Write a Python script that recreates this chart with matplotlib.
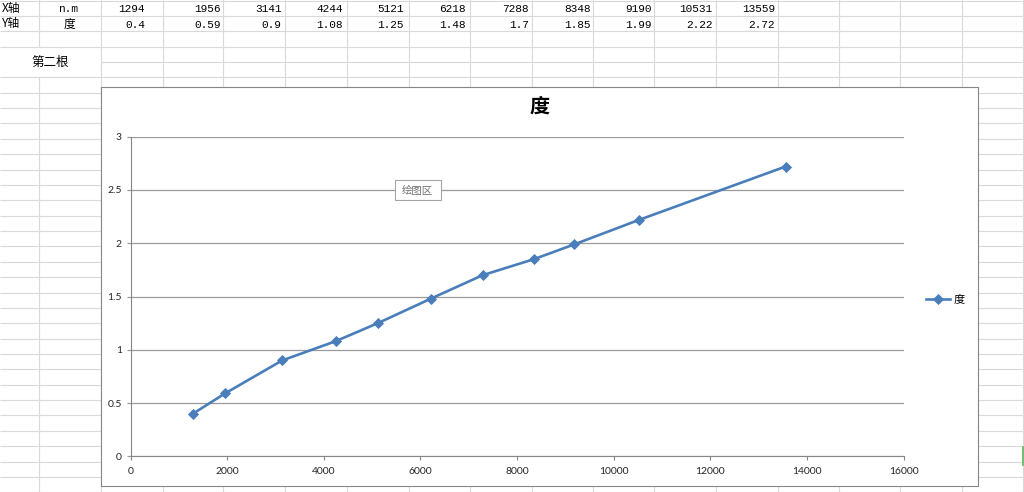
import matplotlib
matplotlib.use('Agg')
import matplotlib.pyplot as plt
from matplotlib.patches import Rectangle
import numpy as np

# ── Data ──────────────────────────────────────────────────────────────────────
x_vals = [1294, 1956, 3141, 4244, 5121, 6218, 7288, 8348, 9190, 10531, 13559]
y_vals = [0.4, 0.59, 0.9, 1.08, 1.25, 1.48, 1.7, 1.85, 1.99, 2.22, 2.72]
series_name = '度'
row_labels = ['X轴', 'Y轴']
unit_labels = ['n.m', '度']
note_label = '第二根'
x_ticks = [0, 2000, 4000, 6000, 8000, 10000, 12000, 14000, 16000]
y_ticks = [0, 0.5, 1, 1.5, 2, 2.5, 3]

# ── Layout (pixels) ───────────────────────────────────────────────────────────
W, H = 1024, 492
COL_EDGES = [39, 100.7, 162.7, 223, 285, 347, 408.7, 470, 531.7, 593, 654,
             716, 777.7, 838.7, 900, 961.7, 1023]
ROW_H = 15.37
VAL_RIGHT = [145, 220.7, 281.5, 343, 404, 466, 529, 590.7, 651.7, 712.7, 775]
CJK = 'Noto Sans CJK SC'
C_GRID = '#d9d9d9'
C_LINE = '#4a7ebb'
C_AXIS = '#868686'

fig = plt.figure(figsize=(W / 100, H / 100), dpi=100)
fig.patch.set_facecolor('white')

bg = fig.add_axes([0, 0, 1, 1])
bg.set_xlim(0, W)
bg.set_ylim(H, 0)
bg.axis('off')

# spreadsheet grid
n_rows = int(H / ROW_H) + 2
for k in range(n_rows):
    y = k * ROW_H + 0.5
    x0 = 100.7 if k == 4 else 0
    bg.plot([x0, W], [y, y], color=C_GRID, lw=0.8, solid_capstyle='butt')
for cx in COL_EDGES:
    if cx == 39:
        bg.plot([cx, cx], [0, 3 * ROW_H], color=C_GRID, lw=0.8)
        bg.plot([cx, cx], [5 * ROW_H, H], color=C_GRID, lw=0.8)
    else:
        bg.plot([cx, cx], [0, H], color=C_GRID, lw=0.8)

# cell text
mono = ['Liberation Mono', CJK]
bg.text(2, 8.5, row_labels[0], fontsize=8.5, family=CJK, va='center', ha='left', color='black')
bg.text(2, 24, row_labels[1], fontsize=8.5, family=CJK, va='center', ha='left', color='black')
bg.text(68, 9, unit_labels[0], fontsize=8, family=mono, va='center', ha='center', color='black')
bg.text(69, 24, unit_labels[1], fontsize=8.5, family=CJK, va='center', ha='center', color='black')
for xv, yv, xr in zip(x_vals, y_vals, VAL_RIGHT):
    bg.text(xr, 9.5, f'{xv}', fontsize=8, family=mono, va='center', ha='right', color='black')
    bg.text(xr, 24.5, f'{yv:g}', fontsize=8, family=mono, va='center', ha='right', color='black')
bg.text(50.5, 62, note_label, fontsize=9, family=CJK, va='center', ha='center', color='black')

# little green selection mark at right edge
bg.plot([1022.5, 1022.5], [447, 465], color='#5cb85c', lw=1.2)

# chart area
bg.add_patch(Rectangle((100.5, 86.5), 877, 399.5, facecolor='white',
                       edgecolor=C_AXIS, lw=0.8, zorder=3))
bg.text(540, 106.5, series_name, fontsize=14.5, family=CJK, fontweight='bold',
        ha='center', va='center', color='black', zorder=4)

# ── Plot area ─────────────────────────────────────────────────────────────────
left, right, top, bottom = 130.5, 903.5, 136.7, 456.3
ax = fig.add_axes([left / W, (H - bottom) / H, (right - left) / W, (bottom - top) / H])
ax.set_facecolor('none')
ax.set_zorder(5)

ax.plot(x_vals, y_vals, color=C_LINE, lw=1.9, marker='D', ms=4.6,
        markeredgewidth=0.6, label=series_name, zorder=4, clip_on=False)

ax.set_xlim(x_ticks[0], x_ticks[-1])
ax.set_ylim(y_ticks[0], y_ticks[-1])
ax.set_xticks(x_ticks)
ax.set_yticks(y_ticks)
ax.set_xticklabels([f'{v:g}' for v in x_ticks])
ax.set_yticklabels([f'{v:g}' for v in y_ticks])
for lab in ax.get_xticklabels() + ax.get_yticklabels():
    lab.set_family('Lato')
    lab.set_fontsize(7.5)
    lab.set_color('#262626')

ax.tick_params(axis='x', direction='out', length=3, width=0.8, color=C_AXIS, pad=5)
ax.tick_params(axis='y', direction='out', length=3.2, width=0.9, color='#9a9a9a', pad=3)
ax.grid(axis='y', color='#9a9a9a', lw=0.9)
ax.set_axisbelow(True)
for side in ['top', 'right']:
    ax.spines[side].set_visible(False)
ax.spines['left'].set_color(C_AXIS)
ax.spines['left'].set_linewidth(0.8)
ax.spines['bottom'].set_color(C_AXIS)
ax.spines['bottom'].set_linewidth(0.8)

ax.legend(loc='center left', bbox_to_anchor=(926 / W, 1 - 300 / H),
          bbox_transform=fig.transFigure, frameon=False, borderpad=0,
          borderaxespad=0, handlelength=2.2, handletextpad=0.3,
          prop=dict(family=CJK, size=8))

# "绘图区" tooltip
ax.add_patch(Rectangle((394.5, 180), 46.5, 20, transform=bg.transData,
                       facecolor='white', edgecolor='#a6a6a6', lw=0.8,
                       zorder=10, clip_on=False))
ax.text(417.5, 190.5, '绘图区', transform=bg.transData, fontsize=7.5, family=CJK,
        ha='center', va='center', color='#6f6f6f', zorder=11, clip_on=False)

fig.savefig('out.png', dpi=100, facecolor='white')
